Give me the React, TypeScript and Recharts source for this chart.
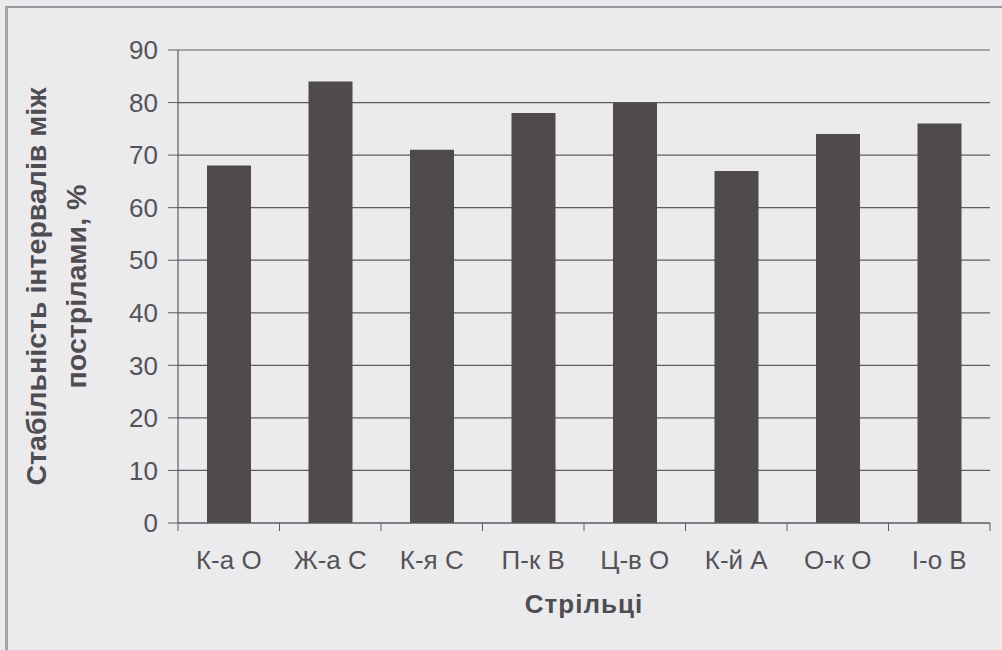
import { BarChart, Bar, XAxis, YAxis, CartesianGrid, Label } from 'recharts';

const shooters = ['К-а О', 'Ж-а С', 'К-я С', 'П-к В', 'Ц-в О', 'К-й А', 'О-к О', 'І-о В'];
const stability = [68, 84, 71, 78, 80, 67, 74, 76];
const yTicks = [0, 10, 20, 30, 40, 50, 60, 70, 80, 90];

const yTitleLines = ['Стабільність інтервалів між', 'пострілами, %'];
const xTitle = 'Стрільці';

const data = shooters.map((name, i) => ({ name, value: stability[i] }));

const FONT = '"Liberation Sans", Arial, sans-serif';
const TEXT = '#555357';
const LINE = '#5e5c60';

function CategoryTick(props: any) {
  const { x, y, payload, index } = props;
  const half = payload?.offset ?? 0;
  const isLast = index === shooters.length - 1;
  return (
    <g>
      <line x1={x - half} x2={x - half} y1={y - 27} y2={y - 19} stroke={LINE} />
      {isLast && <line x1={x + half} x2={x + half} y1={y - 27} y2={y - 19} stroke={LINE} />}
      <text x={x} y={y} dy="0.74em" textAnchor="middle" fill={TEXT} fontSize={26} fontFamily={FONT}>
        {payload.value}
      </text>
    </g>
  );
}

function YTitle(props: any) {
  const vb = props.viewBox;
  const cy = vb.y + vb.height / 2;
  return (
    <g fill="#4f4d51" fontFamily={FONT} fontWeight="bold" fontSize={27}>
      <text
        x={vb.x + 46}
        y={cy}
        textAnchor="middle"
        textLength={398}
        lengthAdjust="spacingAndGlyphs"
        transform={`rotate(-90 ${vb.x + 46} ${cy})`}
      >
        {yTitleLines[0]}
      </text>
      <text
        x={vb.x + 86}
        y={cy}
        textAnchor="middle"
        textLength={204}
        lengthAdjust="spacingAndGlyphs"
        transform={`rotate(-90 ${vb.x + 86} ${cy})`}
      >
        {yTitleLines[1]}
      </text>
    </g>
  );
}

function XTitle(props: any) {
  const vb = props.viewBox;
  return (
    <text
      x={vb.x + vb.width / 2}
      y={vb.y + 90}
      textAnchor="middle"
      fill="#4f4d51"
      fontFamily={FONT}
      fontWeight="bold"
      fontSize={26}
      letterSpacing={1}
    >
      {xTitle}
    </text>
  );
}

export default function App() {
  return (
    <div
      style={{
        position: 'fixed',
        left: 0,
        top: 0,
        width: 1002,
        height: 650,
        background: '#ebeaed',
        overflow: 'hidden',
      }}
    >
      <div
        style={{
          position: 'absolute',
          left: 5,
          top: 6,
          right: 0,
          bottom: 0,
          borderTop: '2px solid #98979b',
          borderLeft: '3px solid #a4a3a7',
        }}
      />
      <div style={{ position: 'absolute', left: 0, top: 0 }}>
        <BarChart
          width={1002}
          height={650}
          data={data}
          margin={{ top: 50, right: 12, bottom: 0, left: 0 }}
        >
          <CartesianGrid yAxisId="left" vertical={false} stroke={LINE} strokeWidth={1.2} />
          <XAxis
            dataKey="name"
            height={127}
            tickSize={8}
            tickMargin={19}
            tickLine={false}
            axisLine={{ stroke: LINE, strokeWidth: 1.2 }}
            tick={<CategoryTick />}
            interval={0}
          >
            <Label content={<XTitle />} />
          </XAxis>
          <YAxis
            yAxisId="left"
            width={178}
            domain={[0, 90]}
            ticks={yTicks}
            interval={0}
            tickSize={10}
            tickMargin={10}
            tickLine={{ stroke: LINE }}
            axisLine={{ stroke: LINE, strokeWidth: 1.2 }}
            tick={{ fill: TEXT, fontSize: 26, fontFamily: FONT }}
          >
            <Label content={<YTitle />} />
          </YAxis>
          <YAxis
            yAxisId="right"
            orientation="right"
            width={0}
            domain={[0, 90]}
            tick={false}
            tickLine={false}
            axisLine={{ stroke: LINE, strokeWidth: 1.2 }}
          />
          <Bar yAxisId="left" dataKey="value" fill="#4e4a4d" barSize={44} isAnimationActive={false} />
        </BarChart>
      </div>
    </div>
  );
}
